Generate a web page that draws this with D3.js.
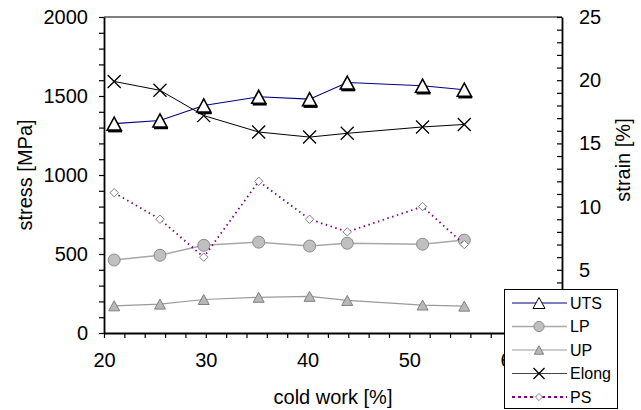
<!DOCTYPE html>
<html>
<head>
<meta charset="utf-8">
<script src="https://cdn.jsdelivr.net/npm/d3@7"></script>
<style>
  body { margin: 0; background: #fff; }
  svg { display: block; font-family: "Liberation Sans", Arial, sans-serif; }
</style>
</head>
<body>
<svg id="chart" width="641" height="410"></svg>
<script>
// cold work [%] for every sample
const coldWork = [21, 25.5, 29.8, 35.2, 40.2, 43.9, 51.3, 55.4];

// stress series [MPa] (left axis)
const uts = [1325, 1345, 1440, 1495, 1480, 1585, 1565, 1540];
const lp = [462, 492, 555, 575, 550, 568, 562, 588];
const up = [172, 183, 212, 226, 232, 206, 177, 170];

// strain series [%] (right axis)
const elong = [19.9, 19.2, 17.2, 15.9, 15.5, 15.8, 16.3, 16.5];
const ps = [11.1, 9, 6, 12, 9, 8, 10, 7];

const xTicks = d3.range(20, 65, 2);
const stressTicks = d3.range(0, 2001, 100);
const strainTicks = d3.range(0, 26, 1);

const svg = d3.select("#chart");

const plotLeft = 104, plotRight = 562, plotTop = 17, plotBottom = 333;

const x = d3.scaleLinear().domain([20, 65]).range([plotLeft, plotRight]);
const yStress = d3.scaleLinear().domain([0, 2000]).range([plotBottom, plotTop]);
const yStrain = d3.scaleLinear().domain([0, 25]).range([plotBottom, plotTop]);

// top frame line
svg.append("line")
    .attr("x1", plotLeft).attr("x2", plotRight)
    .attr("y1", plotTop).attr("y2", plotTop)
    .attr("stroke", "#000").attr("stroke-width", 1.2);

// axes
function styleAxis(g, size) {
    g.select(".domain").attr("stroke", "#000").attr("stroke-width", 1.8);
    g.selectAll(".tick line").attr("stroke", "#000").attr("stroke-width", 1.2);
    g.selectAll(".tick text").attr("font-size", size).attr("fill", "#000")
        .attr("font-family", "Liberation Sans, Arial, sans-serif");
}

svg.append("g")
    .attr("transform", `translate(0,${plotBottom})`)
    .call(d3.axisBottom(x).tickValues(xTicks).tickSize(5).tickSizeOuter(0)
        .tickPadding(15)
        .tickFormat(d => d % 10 === 0 ? d : ""))
    .call(g => styleAxis(g, 20));

svg.append("g")
    .attr("transform", `translate(${plotLeft},0)`)
    .call(d3.axisLeft(yStress).tickValues(stressTicks).tickSize(5).tickSizeOuter(0)
        .tickPadding(11)
        .tickFormat(d => d % 500 === 0 ? d : ""))
    .call(g => styleAxis(g, 20));

// the 0 label sits behind the legend in the original, so it is left out
svg.append("g")
    .attr("transform", `translate(${plotRight},0)`)
    .call(d3.axisRight(yStrain).tickValues(strainTicks).tickSize(-5).tickSizeOuter(0)
        .tickPadding(17)
        .tickFormat(d => d % 5 === 0 && d > 0 ? d : ""))
    .call(g => styleAxis(g, 20));

// axis titles
svg.append("text")
    .attr("x", x(42.5)).attr("y", 404)
    .attr("text-anchor", "middle").attr("font-size", 20)
    .text("cold work [%]");

svg.append("text")
    .attr("transform", `translate(32,175) rotate(-90)`)
    .attr("text-anchor", "middle").attr("font-size", 20)
    .text("stress [MPa]");

svg.append("text")
    .attr("transform", `translate(630,160) rotate(-90)`)
    .attr("text-anchor", "middle").attr("font-size", 20)
    .text("strain [%]");

// marker shapes
function triangle(w, h) {
    return `M0,${-h / 2}L${w / 2},${h / 2}L${-w / 2},${h / 2}Z`;
}

function drawMarker(g, type, big) {
    const k = big ? 1 : 0.85;
    if (type === "uts") {
        const w = 14 * k, h = 13 * k;
        g.append("line")
            .attr("x1", -w / 2 + 1).attr("x2", w / 2 + 1)
            .attr("y1", h / 2 + 1).attr("y2", h / 2 + 1)
            .attr("stroke", "#000").attr("stroke-width", 2.5);
        g.append("path").attr("d", triangle(w, h))
            .attr("fill", "#fff").attr("stroke", "#000").attr("stroke-width", 1.6);
    } else if (type === "lp") {
        g.append("circle").attr("r", 6 * k)
            .attr("fill", "#c0c0c0").attr("stroke", "#8a8a8a").attr("stroke-width", 1);
    } else if (type === "up") {
        g.append("path").attr("d", triangle(11 * k, 10 * k))
            .attr("fill", "#b8b8b8").attr("stroke", "#808080").attr("stroke-width", 1);
    } else if (type === "elong") {
        const s = 6.5 * k;
        g.append("path").attr("d", `M${-s},${-s}L${s},${s}M${-s},${s}L${s},${-s}`)
            .attr("stroke", "#000").attr("stroke-width", 1.3);
    } else if (type === "ps") {
        const s = 4.2 * k;
        g.append("path").attr("d", `M0,${-s}L${s},0L0,${s}L${-s},0Z`)
            .attr("fill", "#fff").attr("stroke", "#808080").attr("stroke-width", 1);
    }
}

const seriesList = [
    { key: "up", name: "UP", values: up, y: yStress, color: "#9a9a9a", width: 1.2, dash: null },
    { key: "lp", name: "LP", values: lp, y: yStress, color: "#a8a8a8", width: 1.5, dash: null },
    { key: "ps", name: "PS", values: ps, y: yStrain, color: "#800080", width: 1.8, dash: "1.5,3.5" },
    { key: "elong", name: "Elong", values: elong, y: yStrain, color: "#000", width: 1, dash: null },
    { key: "uts", name: "UTS", values: uts, y: yStress, color: "#000080", width: 1.1, dash: null }
];

seriesList.forEach(s => {
    const pts = coldWork.map((c, i) => [x(c), s.y(s.values[i])]);
    svg.append("path")
        .attr("d", d3.line()(pts))
        .attr("fill", "none")
        .attr("stroke", s.color)
        .attr("stroke-width", s.width)
        .attr("stroke-dasharray", s.dash);
    svg.append("g").selectAll("g")
        .data(pts)
        .join("g")
        .attr("transform", d => `translate(${d[0]},${d[1]})`)
        .each(function () { drawMarker(d3.select(this), s.key, true); });
});

// legend
const legendOrder = ["uts", "lp", "up", "elong", "ps"];
const legend = svg.append("g");
legend.append("rect")
    .attr("x", 504.5).attr("y", 289.5)
    .attr("width", 113).attr("height", 119)
    .attr("fill", "#fff").attr("stroke", "#000").attr("stroke-width", 1);

legendOrder.forEach((key, i) => {
    const s = seriesList.find(d => d.key === key);
    const ly = 303 + i * 23.5;
    legend.append("line")
        .attr("x1", 512).attr("x2", 567)
        .attr("y1", ly).attr("y2", ly)
        .attr("stroke", key === "elong" ? "#444" : s.color)
        .attr("stroke-width", s.width)
        .attr("stroke-dasharray", key === "ps" ? "3,3" : s.dash);
    const m = legend.append("g").attr("transform", `translate(539,${ly})`);
    if (key === "uts") {
        m.append("path").attr("d", triangle(12, 11))
            .attr("fill", "#fff").attr("stroke", "#000").attr("stroke-width", 1);
    } else {
        drawMarker(m, key, false);
    }
    legend.append("text")
        .attr("x", 570).attr("y", ly)
        .attr("dy", "0.36em")
        .attr("font-size", 16)
        .text(s.name);
});
</script>
</body>
</html>
